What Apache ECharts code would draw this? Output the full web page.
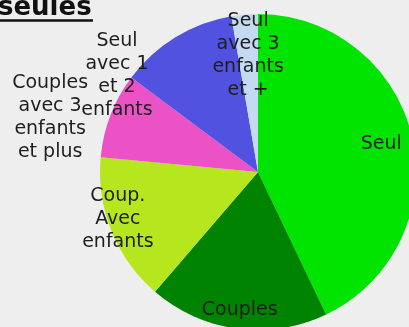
<!DOCTYPE html>
<html>
<head>
<meta charset="utf-8">
<script src="https://cdn.jsdelivr.net/npm/echarts@6/dist/echarts.min.js"></script>
<style>
html,body{margin:0;padding:0;background:#eeeeee;}
#c{width:409px;height:327px;}
</style>
</head>
<body>
<div id="c"></div>
<script>
const categories = ['Seul', 'Couples', 'Coup.\nAvec\nenfants', 'Couples\navec 3\nenfants\net plus', 'Seul\navec 1\net 2\nenfants', 'Seul\navec 3\nenfants\net +'];
const values = [42.9, 18.4, 15.2, 8.7, 12.1, 2.7];
const colors = ['#00e400', '#008400', '#b6e61e', '#ea52c6', '#5252e0', '#c4daf0'];
const titleText = 'seules';

// label placement: radial factor and angular shift (deg) relative to slice mid-angle
const labelRadial = [0.80, 0.88, 0.935, 1.36, 1.083, 0.737];
const labelShift = [0, 0, 3.5, -6.4, -24, 0];

const CX = 258, CY = 172, R = 158;
const total = values.reduce((a, b) => a + b, 0);
const mids = [];
let acc = 0;
values.forEach(v => { mids.push((acc + v / 2) / total * 360); acc += v; });

const chart = echarts.init(document.getElementById('c'));
chart.setOption({
  backgroundColor: '#eeeeee',
  animation: false,
  graphic: [
    { type: 'text', left: -2, top: -5, style: { text: titleText, font: 'bold 26px "DejaVu Sans"', fill: '#111' } },
    { type: 'line', shape: { x1: 0, y1: 20.5, x2: 93, y2: 20.5 }, style: { stroke: '#111', lineWidth: 2.5 } }
  ],
  series: [{
    type: 'pie',
    center: [CX, CY],
    radius: R,
    startAngle: 90,
    clockwise: true,
    avoidLabelOverlap: false,
    data: categories.map((n, i) => ({ name: n, value: values[i], itemStyle: { color: colors[i] } })),
    itemStyle: { borderWidth: 0 },
    label: {
      show: true,
      position: 'inside',
      formatter: '{b}',
      color: '#1e1e1e',
      fontFamily: 'DejaVu Sans',
      fontSize: 19,
      lineHeight: 23,
      align: 'center'
    },
    labelLine: { show: false },
    labelLayout: function (p) {
      const i = p.dataIndex;
      const a = (mids[i] + labelShift[i]) * Math.PI / 180;
      const d = labelRadial[i] * R;
      return { x: CX + d * Math.sin(a), y: CY - d * Math.cos(a), align: 'center', verticalAlign: 'middle' };
    }
  }]
});
</script>
</body>
</html>
